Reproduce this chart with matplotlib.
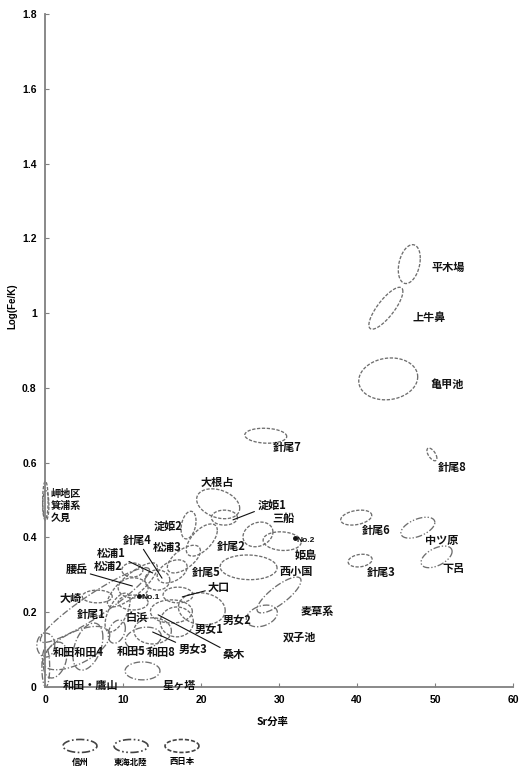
import numpy as np
import matplotlib
matplotlib.use("Agg")
import matplotlib.pyplot as plt

plt.rcParams['font.family'] = ['Noto Sans CJK JP', 'DejaVu Sans']

# ---------------- data ----------------
# ellipses: centre (Sr fraction, Log(Fe/K)), half-widths, tilt correlation, group
ell_cx = [46.7, 43.7, 44.0, 49.6, 39.9, 47.8, 40.4, 50.2, 28.3, 22.2,
          23.0, 27.3, 30.4, 26.1, 30.0, 27.8, 18.4, 20.1, 17.8, 16.3,
          14.4, 11.3, 11.2, 11.2, 11.3, 17.05, 20.1, 16.9, 13.8, 16.2,
          12.6, 12.5, 6.7, 9.3, 5.5, 9.2, 4.0, 0.1, 0.1, 1.3,
          0.05, 0.1, 6.4]
ell_cy = [1.131, 1.013, 0.824, 0.622, 0.453, 0.426, 0.338, 0.348, 0.672, 0.490,
          0.453, 0.408, 0.390, 0.320, 0.246, 0.190, 0.433, 0.393, 0.342, 0.309,
          0.286, 0.265, 0.313, 0.273, 0.226, 0.246, 0.209, 0.174, 0.150, 0.202,
          0.130, 0.043, 0.242, 0.199, 0.108, 0.148, 0.104, 0.053, 0.112, 0.072,
          0.500, 0.485, 0.219]
ell_rx = [1.41, 2.18, 3.78, 0.64, 1.99, 2.18, 1.54, 1.99, 2.69, 2.76,
          1.67, 1.92, 2.44, 3.65, 2.82, 1.99, 0.96, 1.99, 2.12, 1.92,
          1.60, 1.92, 1.35, 3.20, 1.92, 1.92, 3.00, 2.12, 2.40, 2.69,
          2.30, 2.24, 1.92, 1.60, 1.92, 1.10, 4.30, 0.50, 1.15, 1.50,
          0.35, 0.40, 7.00]
ell_ry = [0.052, 0.056, 0.056, 0.017, 0.020, 0.028, 0.017, 0.029, 0.020, 0.040,
          0.020, 0.033, 0.025, 0.033, 0.048, 0.029, 0.037, 0.043, 0.037, 0.031,
          0.027, 0.027, 0.019, 0.059, 0.020, 0.021, 0.043, 0.040, 0.035, 0.031,
          0.030, 0.024, 0.017, 0.052, 0.063, 0.031, 0.058, 0.053, 0.032, 0.048,
          0.050, 0.040, 0.100]
ell_rho = [0.3, 0.8, 0.1, -0.6, 0.3, 0.5, 0.2, 0.5, -0.1, -0.3,
           0.0, 0.2, -0.1, -0.05, 0.8, 0.3, 0.3, 0.6, 0.6, 0.4,
           0.0, 0.0, 0.0, 0.8, 0.0, 0.0, -0.1, 0.0, 0.0, 0.0,
           0.2, 0.0, 0.0, 0.6, 0.4, 0.3, 0.6, 0.0, 0.0, 0.3,
           0.0, 0.0, 0.93]
ell_group = ['W', 'W', 'W', 'W', 'W', 'T', 'W', 'T', 'W', 'W',
             'W', 'W', 'W', 'W', 'S', 'S', 'W', 'W', 'W', 'W',
             'W', 'W', 'W', 'W', 'W', 'W', 'W', 'W', 'W', 'W',
             'S', 'S', 'W', 'W', 'S', 'S', 'S', 'S', 'S', 'S',
             'W', 'W', 'S']

# labels: text, position, optional leader-line target
lab_text = ['平木場', '上牛鼻', '亀甲池', '針尾8', '針尾7', '大根占', '淀姫1', '三船',
            '姫島', '西小国', '針尾6', '中ツ原', '針尾3', '下呂', '麦草系', '双子池',
            '針尾2', '淀姫2', '松浦3', '針尾4', '松浦1', '松浦2', '腰岳', '針尾5',
            '大口', '大崎', '針尾1', '白浜', '男女2', '男女1', '男女3', '桑木',
            '和田和田4', '和田5', '和田8', '和田・鷹山', '星ヶ塔', '岬地区', '箕浦系', '久見']
lab_x = [49.6, 47.1, 49.4, 50.4, 29.2, 19.9, 27.2, 29.1,
         32.0, 30.0, 40.6, 48.7, 41.3, 51.0, 32.7, 30.5,
         22.0, 13.9, 13.8, 10.0, 6.7, 6.2, 2.6, 18.8,
         20.9, 1.9, 4.1, 10.3, 22.8, 19.2, 17.1, 22.8,
         1.0, 9.2, 13.1, 2.3, 15.1, 0.7, 0.7, 0.7]
lab_y = [1.123, 0.987, 0.808, 0.588, 0.640, 0.548, 0.487, 0.452,
         0.353, 0.310, 0.420, 0.393, 0.307, 0.318, 0.203, 0.134,
         0.377, 0.431, 0.372, 0.393, 0.358, 0.321, 0.313, 0.307,
         0.267, 0.238, 0.195, 0.187, 0.179, 0.155, 0.099, 0.086,
         0.091, 0.094, 0.091, 0.005, 0.005, 0.516, 0.484, 0.452]
lab_size = [8] * 37 + [7.3, 7.3, 7.3]
lead_x = [None, None, None, None, None, None, 24.1, None,
          None, None, None, None, None, None, None, None,
          None, None, None, 15.0, 13.8, None, 11.2, None,
          17.6, None, None, None, None, None, 13.8, 14.5,
          None, None, None, None, None, None, None, None]
lead_y = [None, None, None, None, None, None, 0.447, None,
          None, None, None, None, None, None, None, None,
          None, None, None, 0.291, 0.305, None, 0.270, None,
          0.241, None, None, None, None, None, 0.147, 0.193,
          None, None, None, None, None, None, None, None]

# sample points
pt_name = ['No.1', 'No.2']
pt_x = [12.05, 32.0]
pt_y = [0.243, 0.398]

legend_names = ['信州', '東海北陸', '西日本']
legend_groups = ['S', 'T', 'W']

x_ticks = [0, 10, 20, 30, 40, 50, 60]
y_ticks = [0, 0.2, 0.4, 0.6, 0.8, 1.0, 1.2, 1.4, 1.6, 1.8]
y_tick_labels = ['0', '0.2', '0.4', '0.6', '0.8', '1', '1.2', '1.4', '1.6', '1.8']

# ---------------- styles ----------------
styles = {'S': (0, (5, 1.5, 1, 1.5)),
          'T': (0, (5, 1.5, 1, 1.5, 1, 1.5)),
          'W': (0, (2.5, 1.2))}
ecol = '#6e6e6e'

fig = plt.figure(figsize=(5.21, 7.68), dpi=100)
ax = fig.add_axes([0.0864, 0.1055, 0.8983, 0.8763])
ax.set_xlim(0, 60)
ax.set_ylim(0, 1.8)

t = np.linspace(0, 2 * np.pi, 200)
for cx, cy, rx, ry, rho, g in zip(ell_cx, ell_cy, ell_rx, ell_ry, ell_rho, ell_group):
    xs = cx + rx * np.cos(t)
    ys = cy + ry * (rho * np.cos(t) + np.sqrt(1 - rho ** 2) * np.sin(t))
    ax.plot(xs, ys, color=ecol, lw=0.95, linestyle=styles[g], clip_on=False)

for txt, x, y, fs, lx, ly in zip(lab_text, lab_x, lab_y, lab_size, lead_x, lead_y):
    if lx is not None:
        ax.annotate(txt, xy=(lx, ly), xytext=(x, y), ha='left', va='center',
                    fontsize=fs, fontweight='bold', color='#111',
                    arrowprops=dict(arrowstyle='-', color='#111', lw=0.8,
                                    shrinkA=0, shrinkB=0))
    else:
        ax.text(x, y, txt, ha='left', va='center', fontsize=fs,
                fontweight='bold', color='#111')

for n, x, y in zip(pt_name, pt_x, pt_y):
    ax.plot([x], [y], marker='o', ms=2.5, color='#111')
    ax.text(x + 0.3, y - 0.005, n, fontsize=6, fontweight='bold',
            ha='left', va='center', color='#111', family='Liberation Sans')

for s in ['top', 'right']:
    ax.spines[s].set_visible(False)
for s in ['left', 'bottom']:
    ax.spines[s].set_color('#808080')
    ax.spines[s].set_linewidth(1.3)

ax.set_xticks(x_ticks)
ax.set_xticklabels([str(v) for v in x_ticks])
ax.set_yticks(y_ticks)
ax.set_yticklabels(y_tick_labels)
ax.tick_params(direction='in', length=3, color='#808080', labelsize=7.5, pad=6)
for lbl in ax.get_xticklabels() + ax.get_yticklabels():
    lbl.set_family('Liberation Sans')
    lbl.set_fontweight('bold')

ax.set_xlabel('Sr分率', fontsize=7.5, fontweight='bold')
ax.xaxis.set_label_coords(0.485, -0.045)
ax.set_ylabel('Log(Fe/K)', fontsize=7, fontweight='bold', family='Liberation Sans')
ax.yaxis.set_label_coords(-0.058, 0.566)

# legend
lax = fig.add_axes([0, 0, 1, 0.06])
lax.set_xlim(0, 521)
lax.set_ylim(0, 46)
lax.axis('off')
for i, (name, g) in enumerate(zip(legend_names, legend_groups)):
    xc = 80 + i * 51
    xs = xc + 17 * np.cos(t)
    ys = 22 + 6.5 * np.sin(t)
    lax.plot(xs, ys, color='#444', lw=1.2, linestyle=styles[g])
    lax.text(xc, 6, name, ha='center', va='center', fontsize=6, fontweight='bold')

fig.savefig('out.png', dpi=100)
